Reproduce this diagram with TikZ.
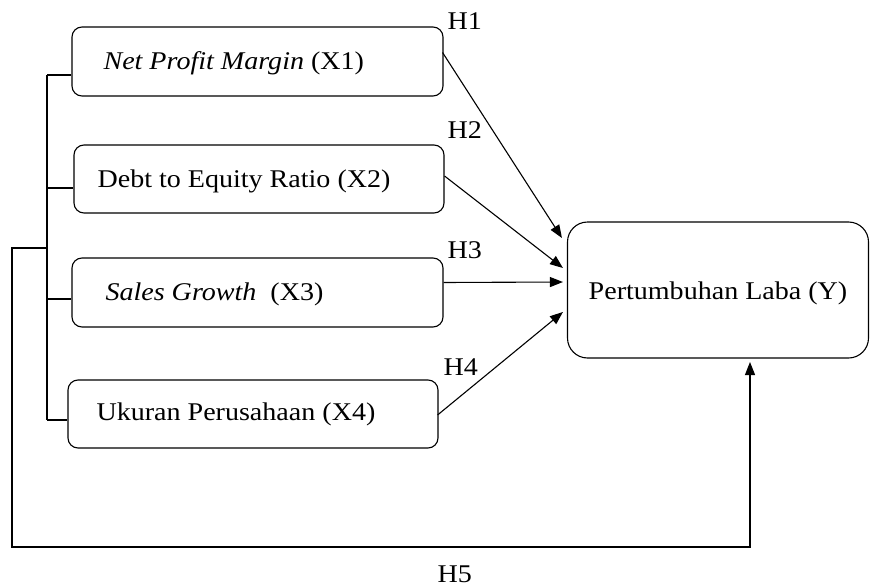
\documentclass[tikz,border=0pt]{standalone}
\usepackage{fontspec}
\setmainfont{Liberation Serif}[FakeStretch=1.1]
\usetikzlibrary{arrows.meta,calc}
\begin{document}
\begin{tikzpicture}[x=1pt,y=-1pt,
  line width=1.1pt,
  boxx/.style={draw, rounded corners=10pt, inner sep=0pt},
  boxy/.style={draw, rounded corners=20pt, inner sep=0pt},
  txt/.style={inner sep=0pt, anchor=base west, font=\fontsize{25.5}{30}\selectfont},
  hlab/.style={inner sep=0pt, anchor=base west, font=\fontsize{25.5}{30}\selectfont},
  arr/.style={-{Triangle[length=13pt,width=10pt]}}]
\useasboundingbox (0,0) rectangle (870,586);
% boxes
\node[boxx, minimum width=371pt, minimum height=69pt] (b1) at (257.5,61.5) {};
\node[boxx, minimum width=370pt, minimum height=68pt] (b2) at (259,179) {};
\node[boxx, minimum width=371pt, minimum height=69pt] (b3) at (257.5,292.5) {};
\node[boxx, minimum width=370pt, minimum height=68pt] (b4) at (253,414) {};
\node[boxy, minimum width=301pt, minimum height=136pt] (b5) at (718,290) {};
% texts
\node[txt] (t1) at (103,70) {\textit{Net Profit Margin} (X1)};
\node[txt] (t2) at (97,187) {Debt to Equity Ratio (X2)};
\node[txt] (t3) at (105,300) {\textit{Sales Growth}\ \ (X3)};
\node[txt] (t4) at (96,420) {Ukuran Perusahaan (X4)};
\node[txt, anchor=base] (t5) at (718,299) {Pertumbuhan Laba (Y)};
% hypothesis labels
\node[hlab] (h1) at (447,30) {H1};
\node[hlab] (h2) at (447,138) {H2};
\node[hlab] (h3) at (447,258) {H3};
\node[hlab] (h4) at (443,375) {H4};
\node[hlab] (h5) at (437,582) {H5};
% bracket on the left
\coordinate (k1) at (47,75);
\coordinate (k2) at (47,188);
\coordinate (k3) at (47,299);
\coordinate (k4) at (47,420);
\coordinate (kj) at (47,248);
\draw (k1) -- (k4);
\draw (k1) -- (b1.west |- k1);
\draw (k2) -- (b2.west |- k2);
\draw (k3) -- (b3.west |- k3);
\draw (k4) -- (b4.west |- k4);
% H5 path
\coordinate (c1) at (12,248);
\coordinate (c2) at (12,547);
\coordinate (c3) at (750,547);
\coordinate (c4) at (750,362);
\draw[arr] (kj) -- (c1) -- (c2) -- (c3) -- (c4);
% H1-H4 arrows
\draw[arr] ($(b1.east)+(-1,-9)$) -- ($(b5.west)+(-5,-52)$);
\draw[arr] ($(b2.east)+(0,-3)$) -- ($(b5.west)+(-4,-22)$);
\draw[arr] ($(b3.east)+(0,-10)$) -- ($(b5.west)+(-4,-8)$);
\draw[arr] ($(b4.east)+(-1,1)$) -- ($(b5.west)+(-4,22)$);
\end{tikzpicture}
\end{document}
